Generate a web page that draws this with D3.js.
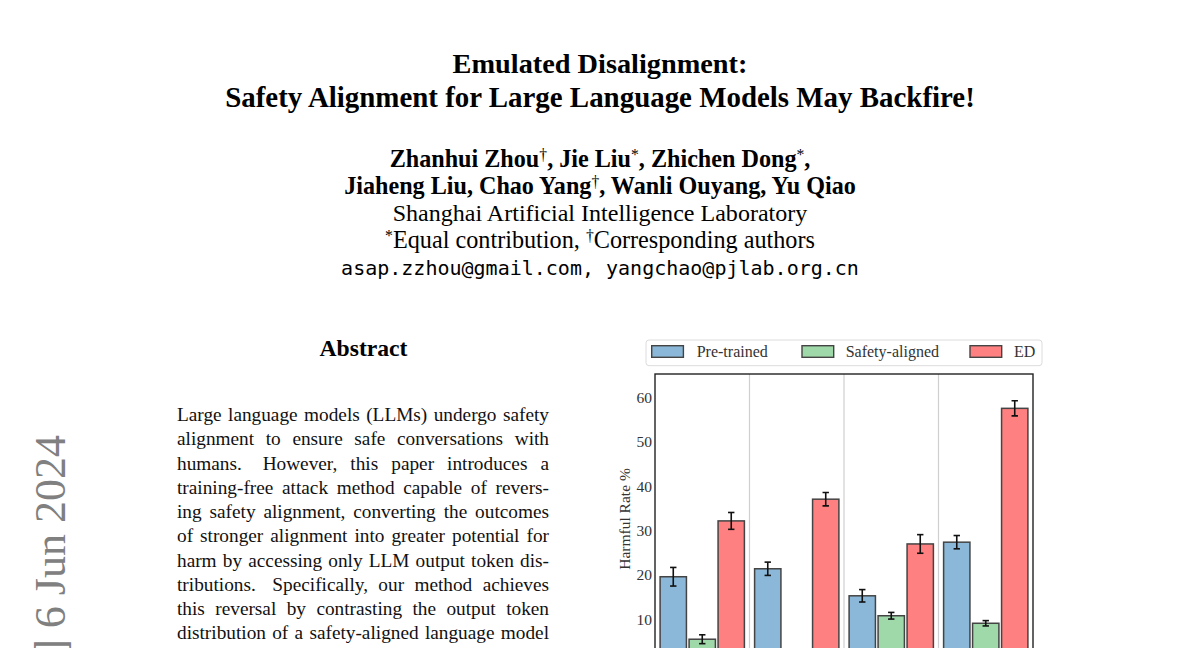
<!DOCTYPE html>
<html>
<head>
<meta charset="utf-8">
<script src="https://cdn.jsdelivr.net/npm/d3@7"></script>
<style>
  html, body { margin: 0; padding: 0; background: #fff; }
  svg { display: block; }
</style>
</head>
<body>
<svg id="page" width="1200" height="648"></svg>
<script>
// ---------------- DATA ----------------
const groups = ["Llama-1", "Llama-2", "Mistral", "Alpaca"];
const series = ["Pre-trained", "Safety-aligned", "ED"];
const pretrained      = [19.6, 21.4, 15.3, 27.4];
const pretrainedErr   = [2.1, 1.5, 1.4, 1.5];
const safetyAligned   = [5.5, 0.6, 10.8, 9.1];
const safetyAlignedErr= [1.0, 0.3, 0.75, 0.6];
const edValues        = [32.2, 37.1, 27.0, 57.6];
const edErr           = [1.9, 1.5, 2.1, 1.7];
const yTicks = [10, 20, 30, 40, 50, 60];
const yLabel = "Harmful Rate %";

const titleLines = ["Emulated Disalignment:", "Safety Alignment for Large Language Models May Backfire!"];
const abstractLines = [
  "Large language models (LLMs) undergo safety",
  "alignment to ensure safe conversations with",
  "humans.  However, this paper introduces a",
  "training-free attack method capable of revers-",
  "ing safety alignment, converting the outcomes",
  "of stronger alignment into greater potential for",
  "harm by accessing only LLM output token dis-",
  "tributions.  Specifically, our method achieves",
  "this reversal by contrasting the output token",
  "distribution of a safety-aligned language model"
];
const stampText = "arXiv:2402.12343v4  [cs.CL]  6 Jun 2024";

// ---------------- PAGE TEXT ----------------
const svg = d3.select("#page");
const SERIF = "'Liberation Serif', 'Times New Roman', serif";

function fit(sel, target) {
  const w = sel.node().getComputedTextLength();
  const fs = parseFloat(sel.style("font-size"));
  sel.style("font-size", (fs * target / w) + "px");
}

// Title
const t1 = svg.append("text").attr("x", 600).attr("y", 73.3).attr("text-anchor", "middle")
  .style("font-family", SERIF).style("font-weight", "bold").style("font-size", "25px").text(titleLines[0]);
fit(t1, 295);
const t2 = svg.append("text").attr("x", 600).attr("y", 106.7).attr("text-anchor", "middle")
  .style("font-family", SERIF).style("font-weight", "bold").style("font-size", "25px").text(titleLines[1]);
fit(t2, 750);

// Authors with superscripts
function richLine(y, parts, weight, target) {
  const t = svg.append("text").attr("x", 600).attr("y", y).attr("text-anchor", "middle")
    .style("font-family", SERIF).style("font-weight", weight).style("font-size", "19px");
  parts.forEach(p => {
    if (typeof p === "string") t.append("tspan").text(p);
    else t.append("tspan").attr("dy", "-0.45em").attr("data-sup", 1)
          .style("font-size", "65%").style("font-weight", "normal").text(p.sup);
  });
  t.selectAll("tspan").each(function(d, i, nodes) {
    if (d3.select(this).attr("data-sup")) {
      const next = nodes[i + 1];
      if (next) d3.select(next).attr("dy", "0.2925em");
    }
  });
  fit(t, target);
  return t;
}
richLine(166.7, ["Zhanhui Zhou", {sup: "†"}, ", Jie Liu", {sup: "*"}, ", Zhichen Dong", {sup: "*"}, ","], "bold", 421);
richLine(194.3, ["Jiaheng Liu, Chao Yang", {sup: "†"}, ", Wanli Ouyang, Yu Qiao"], "bold", 512);
const aff = svg.append("text").attr("x", 600).attr("y", 221).attr("text-anchor", "middle")
  .style("font-family", SERIF).style("font-size", "20px").text("Shanghai Artificial Intelligence Laboratory");
fit(aff, 415);
richLine(248.3, [{sup: "*"}, "Equal contribution, ", {sup: "†"}, "Corresponding authors"], "normal", 430);
const em = svg.append("text").attr("x", 600).attr("y", 275).attr("text-anchor", "middle")
  .style("font-family", "'DejaVu Sans Mono', 'Liberation Mono', monospace").style("font-size", "20px")
  .text("asap.zzhou@gmail.com, yangchao@pjlab.org.cn");
fit(em, 518);

// Abstract heading
const ah = svg.append("text").attr("x", 363.5).attr("y", 355.7).attr("text-anchor", "middle")
  .style("font-family", SERIF).style("font-weight", "bold").style("font-size", "20px").text("Abstract");
fit(ah, 88);

// Justified abstract lines
const absLeft = 177, absRight = 549, absFont = 19.3;
abstractLines.forEach((line, i) => {
  const yy = 421 + i * 24.25;
  const words = line.split(/ +/);
  const gaps = [];
  line.replace(/ +/g, m => { gaps.push(m.length > 1 ? 1.6 : 1); return m; });
  const g = svg.append("g");
  const nodes = words.map(w => g.append("text").attr("y", yy)
      .style("font-family", SERIF).style("font-size", absFont + "px").style("fill", "#111").text(w));
  const widths = nodes.map(n => n.node().getComputedTextLength());
  const total = d3.sum(widths);
  const gapUnit = (absRight - absLeft - total) / d3.sum(gaps);
  let xx = absLeft;
  nodes.forEach((n, k) => { n.attr("x", xx); xx += widths[k] + (k < gaps.length ? gaps[k] * gapUnit : 0); });
});

// arXiv stamp
svg.append("text").attr("transform", "translate(65,435) rotate(-90)").attr("text-anchor", "end")
  .style("font-family", SERIF).style("font-size", "44px").style("fill", "#808080").text(stampText);

// ---------------- CHART ----------------
const plot = { left: 655, right: 1033, top: 374, bottom: 663.6 };
const y = d3.scaleLinear().domain([0, 65.35]).range([plot.bottom, plot.top]);
const x0 = d3.scaleBand().domain(groups).range([plot.left, plot.right]).padding(0);
const x1 = d3.scaleBand().domain(series).range([0, x0.bandwidth()]).paddingInner(0.04).paddingOuter(0.15);
const color = d3.scaleOrdinal().domain(series).range(["#8bb8d8", "#a0d9a9", "#ff8080"]);

const valuesBySeries = { "Pre-trained": pretrained, "Safety-aligned": safetyAligned, "ED": edValues };
const errBySeries = { "Pre-trained": pretrainedErr, "Safety-aligned": safetyAlignedErr, "ED": edErr };
const barData = [];
groups.forEach((g, gi) => series.forEach(s => barData.push({ g, s, v: valuesBySeries[s][gi], e: errBySeries[s][gi] })));

const chart = svg.append("g");
chart.append("defs").append("clipPath").attr("id", "plotclip")
  .append("rect").attr("x", plot.left).attr("y", plot.top).attr("width", plot.right - plot.left).attr("height", plot.bottom - plot.top);

// vertical separators between groups
chart.append("g").selectAll("line").data(groups.slice(1)).join("line")
  .attr("x1", d => x0(d)).attr("x2", d => x0(d)).attr("y1", plot.top).attr("y2", plot.bottom)
  .attr("stroke", "#cfcfcf").attr("stroke-width", 1.2);

const barsG = chart.append("g").attr("clip-path", "url(#plotclip)");
barsG.selectAll("rect").data(barData).join("rect")
  .attr("x", d => x0(d.g) + x1(d.s) + 0.75)
  .attr("width", x1.bandwidth() - 1.5)
  .attr("y", d => y(d.v))
  .attr("height", d => y(0) - y(d.v))
  .attr("fill", d => color(d.s))
  .attr("stroke", "#444").attr("stroke-width", 1.5);

// error bars
const eb = barsG.append("g").attr("stroke", "#111").attr("stroke-width", 1.6);
barData.forEach(d => {
  const cx = x0(d.g) + x1(d.s) + x1.bandwidth() / 2;
  eb.append("line").attr("x1", cx).attr("x2", cx).attr("y1", y(d.v + d.e)).attr("y2", y(d.v - d.e));
  eb.append("line").attr("x1", cx - 3.2).attr("x2", cx + 3.2).attr("y1", y(d.v + d.e)).attr("y2", y(d.v + d.e));
  eb.append("line").attr("x1", cx - 3.2).attr("x2", cx + 3.2).attr("y1", y(d.v - d.e)).attr("y2", y(d.v - d.e));
});

// frame
chart.append("rect").attr("x", plot.left).attr("y", plot.top)
  .attr("width", plot.right - plot.left).attr("height", plot.bottom - plot.top)
  .attr("fill", "none").attr("stroke", "#222").attr("stroke-width", 1.4);

// y axis ticks (labels only)
const yAxis = d3.axisLeft(y).tickValues(yTicks).tickSize(0).tickPadding(3).tickFormat(d3.format("d"));
const yG = chart.append("g").attr("transform", `translate(${plot.left},0)`).call(yAxis);
yG.select(".domain").remove();
yG.selectAll("text").style("font-family", SERIF).style("font-size", "15.5px").style("fill", "#333");

// y label
chart.append("text").attr("transform", "translate(630,519) rotate(-90)").attr("text-anchor", "middle")
  .style("font-family", SERIF).style("font-size", "15.5px").style("fill", "#333").text(yLabel);

// legend
const legend = chart.append("g");
legend.append("rect").attr("x", 646).attr("y", 340).attr("width", 396).attr("height", 25.7)
  .attr("rx", 3).attr("fill", "#fff").attr("stroke", "#dcdcdc").attr("stroke-width", 1);
const legX = [651.7, 802, 970];
const legItems = legend.selectAll("g.item").data(series).join("g").attr("class", "item")
  .attr("transform", (d, i) => `translate(${legX[i]},0)`);
legItems.append("rect").attr("x", 0).attr("y", 345.7).attr("width", 31.7).attr("height", 11.6)
  .attr("fill", d => color(d)).attr("stroke", "#444").attr("stroke-width", 1.4);
legItems.append("text").attr("x", (d, i) => [45, 43.7, 44][i]).attr("y", 357)
  .style("font-family", SERIF).style("font-size", "16px").style("fill", "#333").text(d => d);
</script>
</body>
</html>
